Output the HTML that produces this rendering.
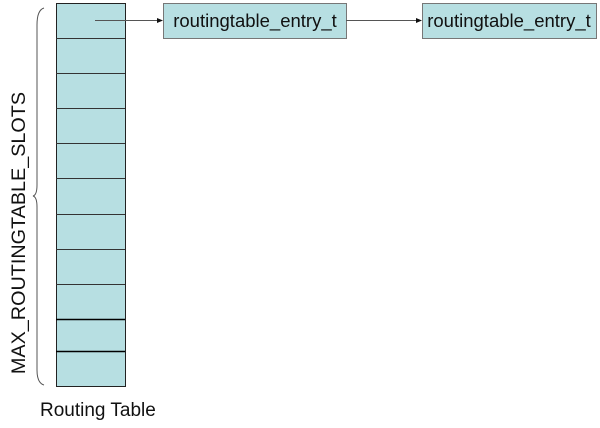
<!DOCTYPE html>
<html><head><style>
body{margin:0;width:600px;height:423px;background:#fff;overflow:hidden;font-family:"Liberation Sans",Arial,sans-serif;}
</style></head><body>
<svg width="600" height="423" xmlns="http://www.w3.org/2000/svg" font-family="Liberation Sans, Arial, sans-serif">
<rect x="56.5" y="3.5" width="69" height="383" fill="#b7dfe2" stroke="#222" stroke-width="1"/>
<g stroke="#333" stroke-width="1">
<line x1="56" y1="38.5" x2="125" y2="38.5"/>
<line x1="56" y1="73.5" x2="125" y2="73.5"/>
<line x1="56" y1="108.5" x2="125" y2="108.5"/>
<line x1="56" y1="143.5" x2="125" y2="143.5"/>
<line x1="56" y1="178.5" x2="125" y2="178.5"/>
<line x1="56" y1="214.5" x2="125" y2="214.5"/>
<line x1="56" y1="249.5" x2="125" y2="249.5"/>
<line x1="56" y1="284.5" x2="125" y2="284.5"/>
<line x1="56" y1="319.5" x2="125" y2="319.5" stroke="#000" stroke-width="1.5"/>
<line x1="56" y1="351.5" x2="125" y2="351.5" stroke="#000" stroke-width="1.5"/>
</g>
<rect x="163.5" y="3.5" width="183" height="35" fill="#b7dfe2" stroke="#777"/>
<rect x="422.5" y="3.5" width="174" height="35" fill="#b7dfe2" stroke="#777"/>
<text x="255" y="27" font-size="18.5" text-anchor="middle" fill="#111">routingtable_entry_t</text>
<text x="509" y="27" font-size="18.5" text-anchor="middle" fill="#111">routingtable_entry_t</text>
<line x1="95" y1="20.5" x2="158" y2="20.5" stroke="#555"/>
<polygon points="163,20.5 157,18 157,23" fill="#111"/>
<line x1="346" y1="20.5" x2="417" y2="20.5" stroke="#555"/>
<polygon points="422,20.5 416,18 416,23" fill="#111"/>
<path d="M44,8 Q37,10 37,25 L37,185 Q37,195 33,196 Q37,197 37,207 L37,370 Q37,383 44,385" fill="none" stroke="#555" stroke-width="1"/>
<text transform="translate(25,233) rotate(-90)" font-size="19.8" text-anchor="middle" fill="#111">MAX_ROUTINGTABLE_SLOTS</text>
<text x="40" y="416" font-size="19" fill="#111">Routing Table</text>
</svg>
</body></html>
